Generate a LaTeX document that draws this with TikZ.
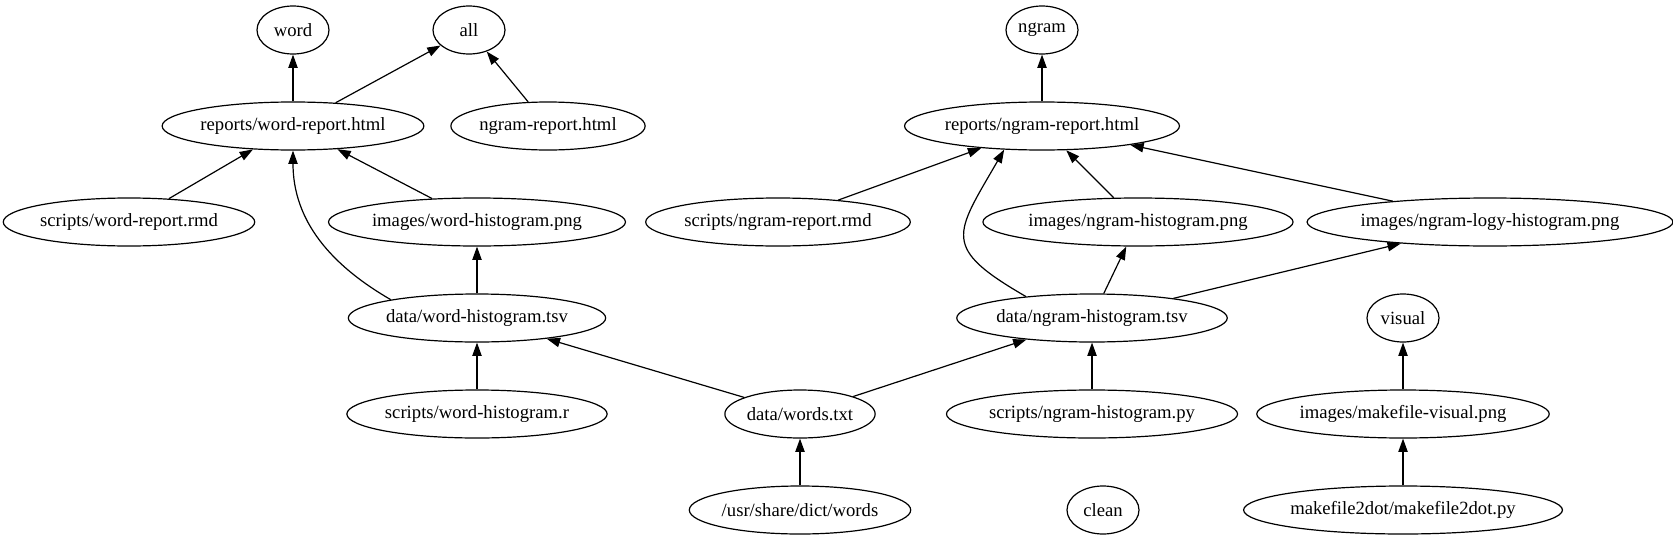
\documentclass[tikz,border=0pt]{standalone}
\usepackage{fontspec}
\setmainfont{Liberation Serif}
\usetikzlibrary{arrows.meta,shapes.geometric}

\begin{document}
\begin{tikzpicture}[x=0.75pt,y=-0.75pt]
  \tikzset{filenode/.style={ellipse,draw=black,line width=0.9pt,inner xsep=0pt,inner ysep=1pt,minimum width=54pt,minimum height=36pt,font=\fontsize{14}{16}\selectfont}}
  \tikzset{depedge/.style={draw=black,line width=0.9pt,-{Triangle[length=10pt,width=7pt]}}}
  \useasboundingbox (0,0) rectangle (1673,539);
  \node[filenode] (word) at (293,30) {word};
  \node[filenode] (all) at (469,30) {all};
  \node[filenode] (ngram) at (1042,30) {ngram};
  \node[filenode] (wrep) at (293,126) {reports/word-report.html};
  \node[filenode] (nrephtml) at (548,126) {ngram-report.html};
  \node[filenode] (nrep) at (1042,126) {reports/ngram-report.html};
  \node[filenode] (wrmd) at (129,222) {scripts/word-report.rmd};
  \node[filenode] (wpng) at (477,222) {images/word-histogram.png};
  \node[filenode] (nrmd) at (778,222) {scripts/ngram-report.rmd};
  \node[filenode] (npng) at (1138,222) {images/ngram-histogram.png};
  \node[filenode] (nlogy) at (1490,222) {images/ngram-logy-histogram.png};
  \node[filenode] (wtsv) at (477,318) {data/word-histogram.tsv};
  \node[filenode] (ntsv) at (1092,318) {data/ngram-histogram.tsv};
  \node[filenode] (visual) at (1403,318) {visual};
  \node[filenode] (wscript) at (477,414) {scripts/word-histogram.r};
  \node[filenode] (words) at (800,414) {data/words.txt};
  \node[filenode] (nscript) at (1092,414) {scripts/ngram-histogram.py};
  \node[filenode] (vpng) at (1403,414) {images/makefile-visual.png};
  \node[filenode] (dict) at (800,510) {/usr/share/dict/words};
  \node[filenode] (clean) at (1103,510) {clean};
  \node[filenode] (m2dot) at (1403,510) {makefile2dot/makefile2dot.py};
  \draw[depedge] (wrep) -- (word);
  \draw[depedge] (wrep) -- (all);
  \draw[depedge] (nrephtml) -- (all);
  \draw[depedge] (nrep) -- (ngram);
  \draw[depedge] (wrmd) -- (wrep);
  \draw[depedge] (wpng) -- (wrep);
  \draw[depedge] (wtsv.168) to[out=150,in=-90] (wrep.south);
  \draw[depedge] (wtsv) -- (wpng);
  \draw[depedge] (wscript) -- (wtsv);
  \draw[depedge] (words) -- (wtsv);
  \draw[depedge] (words) -- (ntsv);
  \draw[depedge] (dict) -- (words);
  \draw[depedge] (nrmd) -- (nrep);
  \draw[depedge] (npng) -- (nrep);
  \draw[depedge] (nlogy) -- (nrep);
  \draw[depedge] (ntsv.162) to[out=150,in=-120,looseness=1.7] (nrep.212);
  \draw[depedge] (ntsv) -- (npng);
  \draw[depedge] (ntsv) -- (nlogy);
  \draw[depedge] (nscript) -- (ntsv);
  \draw[depedge] (vpng) -- (visual);
  \draw[depedge] (m2dot) -- (vpng);
\end{tikzpicture}
\end{document}
